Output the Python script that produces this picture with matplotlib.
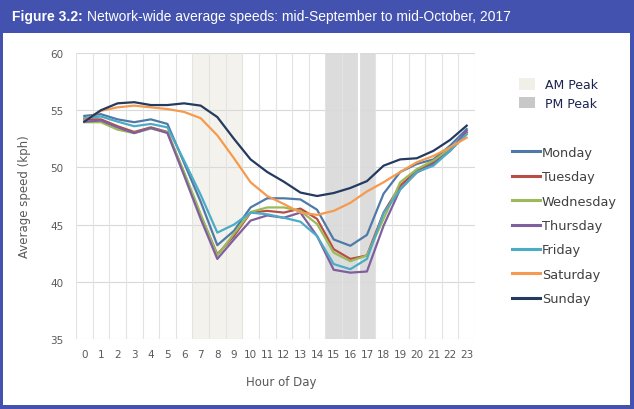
import matplotlib
matplotlib.use("Agg")
import matplotlib.pyplot as plt
from matplotlib.patches import Rectangle, Patch
from matplotlib.lines import Line2D
from matplotlib import font_manager

hours = list(range(24))
days = ["Monday", "Tuesday", "Wednesday", "Thursday", "Friday", "Saturday", "Sunday"]

monday = [54.5, 54.65, 54.2, 53.95, 54.2, 53.8, 50.4, 47.0, 43.2, 44.45, 46.5, 47.3,
          47.3, 47.2, 46.3, 43.7, 43.15, 44.1, 47.7, 49.6, 50.3, 50.7, 51.9, 53.35]
tuesday = [54.2, 54.2, 53.6, 53.1, 53.5, 53.1, 49.5, 45.8, 42.4, 44.0, 46.05, 46.2,
           46.05, 46.4, 45.5, 42.85, 42.0, 42.3, 46.05, 48.4, 49.7, 50.45, 51.45, 53.05]
wednesday = [53.95, 53.95, 53.3, 53.0, 53.4, 53.05, 49.6, 45.9, 42.3, 44.2, 46.1, 46.5,
             46.5, 46.2, 45.05, 42.55, 41.8, 42.3, 45.5, 48.7, 49.85, 50.6, 51.6, 52.9]
thursday = [54.0, 54.1, 53.5, 53.0, 53.45, 53.0, 49.3, 45.5, 42.0, 43.7, 45.35, 45.8,
            45.6, 46.05, 44.0, 41.05, 40.8, 40.9, 44.9, 48.1, 49.55, 50.3, 51.45, 53.2]
friday = [54.3, 54.45, 54.0, 53.6, 53.8, 53.5, 50.6, 47.6, 44.3, 45.0, 46.05, 45.9,
          45.6, 45.25, 44.0, 41.55, 41.1, 42.0, 46.0, 48.05, 49.6, 50.15, 51.45, 52.9]
saturday = [54.1, 54.95, 55.25, 55.4, 55.25, 55.1, 54.85, 54.3, 52.8, 50.8, 48.7, 47.5,
            46.8, 46.05, 45.85, 46.2, 46.9, 47.9, 48.7, 49.6, 50.45, 51.0, 51.75, 52.6]
sunday = [54.0, 55.0, 55.6, 55.7, 55.45, 55.45, 55.6, 55.4, 54.4, 52.5, 50.7, 49.6,
          48.75, 47.8, 47.5, 47.76, 48.2, 48.8, 50.15, 50.7, 50.8, 51.45, 52.4, 53.65]

series = [monday, tuesday, wednesday, thursday, friday, saturday, sunday]
colors = ["#4f7aa8", "#b84d45", "#9bbb59", "#7f5f9e", "#4bacc6", "#f59a4e", "#243a5e"]

am_peak = (7, 9)
pm_peak = (15, 17)

blue = "#4352ae"
tick_col = "#595959"

names = {f.name for f in font_manager.fontManager.ttflist}
title_font = "Liberation Sans Narrow" if "Liberation Sans Narrow" in names else "Liberation Sans"
title_size = 11.5 if title_font == "Liberation Sans Narrow" else 10

fig = plt.figure(figsize=(6.34, 4.10), dpi=100)
fig.patch.set_facecolor(blue)
fig.patches.append(Rectangle((3 / 634, 4 / 410), 627 / 634, 372 / 410,
                             transform=fig.transFigure, facecolor="white",
                             edgecolor="none", zorder=-5))

# title: bold prefix, then the rest placed right after it
t1 = fig.text(12 / 634, 1 - 17 / 410, "Figure 3.2:", color="white", fontsize=title_size,
              fontweight="bold", family=title_font, va="center", ha="left")
renderer = fig.canvas.get_renderer()
bb = t1.get_window_extent(renderer)
fig.text((bb.x1 + 4) / 634, 1 - 17 / 410,
         "Network-wide average speeds: mid-September to mid-October, 2017",
         color="white", fontsize=title_size, family=title_font, va="center", ha="left")

ax = fig.add_axes([76 / 634, 1 - 340 / 410, 399 / 634, 286 / 410])
ax.set_facecolor("none")

ax.axvspan(am_peak[0] - 0.5, am_peak[1] + 0.5, color="#f3f2ec", lw=0, zorder=0)
ax.axvspan(pm_peak[0] - 0.5, pm_peak[1] + 0.5, color="#dcdcdc", lw=0, zorder=0)

for v in range(35, 61, 5):
    ax.axhline(v, color="#d9d9d9", lw=0.8, zorder=1)
for h in range(-1, 24):
    ax.axvline(h + 0.5, color="#e3e3e3", lw=0.8, zorder=1)
ax.axvline(16.5, color="white", lw=1.6, zorder=1)

for vals, c in zip(series, colors):
    ax.plot(hours, vals, color=c, lw=1.6, zorder=3)

ax.set_xlim(-0.5, 23.5)
ax.set_ylim(35, 60)
ax.set_xticks(hours)
ax.set_yticks(range(35, 61, 5))
for s in ax.spines.values():
    s.set_visible(False)
ax.tick_params(length=0, labelsize=7.5, colors=tick_col, pad=7)
ax.tick_params(axis="y", pad=9)

ax.set_xlabel("Hour of Day", fontsize=8.5, color=tick_col)
ax.xaxis.set_label_coords(0.515, -0.125)
ax.set_ylabel("Average speed (kph)", fontsize=8.5, color=tick_col)
ax.yaxis.set_label_coords(-0.113, 0.5)

peak_handles = [Patch(facecolor="#f0efe8", edgecolor="none"),
                Patch(facecolor="#c8c8c8", edgecolor="none")]
leg1 = fig.legend(peak_handles, ["AM Peak", "PM Peak"], loc="upper left",
                  bbox_to_anchor=(519 / 634, 1 - 79 / 410), frameon=False,
                  fontsize=9, handlelength=1.25, handleheight=1.05,
                  handletextpad=0.85, labelspacing=0.45, borderpad=0,
                  borderaxespad=0, labelcolor="#1b2450")

day_handles = [Line2D([], [], color=c, lw=2.2) for c in colors]
leg2 = fig.legend(day_handles, days, loc="upper left",
                  bbox_to_anchor=(512 / 634, 1 - 147 / 410), frameon=False,
                  fontsize=9.3, handlelength=2.15, handletextpad=0.15,
                  labelspacing=0.88, borderpad=0, borderaxespad=0,
                  labelcolor="#404040")

fig.savefig("out.png", dpi=100)
